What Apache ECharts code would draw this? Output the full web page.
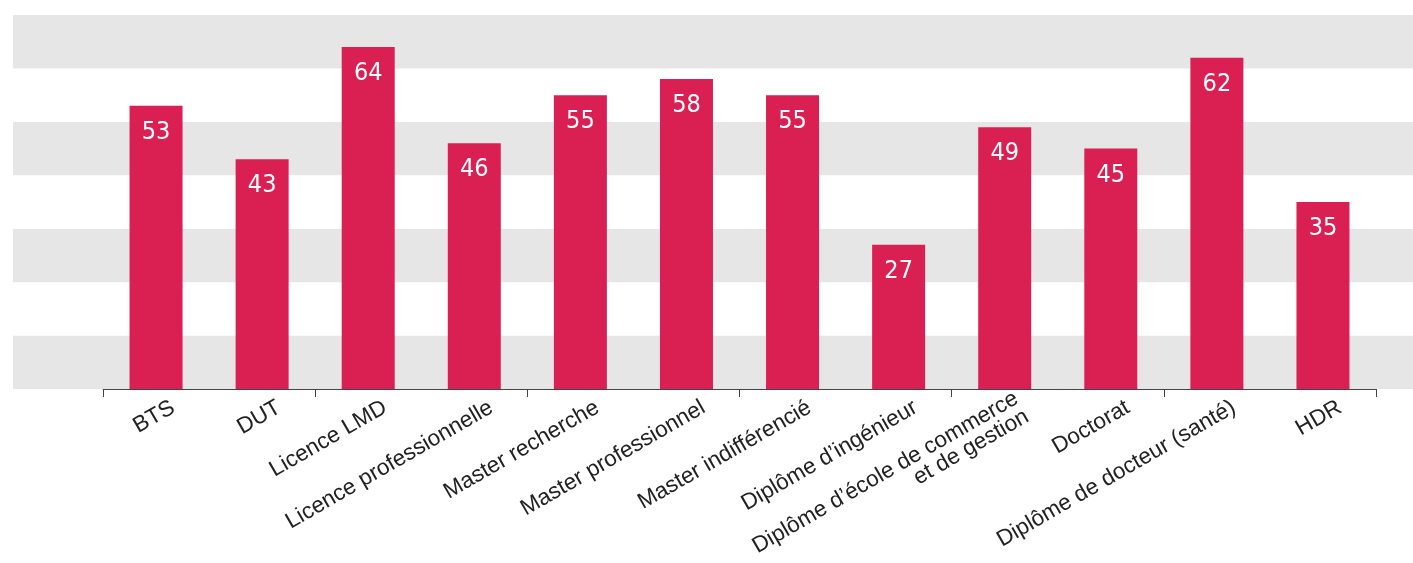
<!DOCTYPE html>
<html>
<head>
<meta charset="utf-8">
<script src="https://cdn.jsdelivr.net/npm/echarts@6/dist/echarts.min.js"></script>
<style>
html,body{margin:0;padding:0;background:#fff;}
#chart{width:1413px;height:563px;}
</style>
</head>
<body>
<div id="chart"></div>
<script>
const categories = [
  "BTS", "DUT", "Licence LMD", "Licence professionnelle", "Master recherche",
  "Master professionnel", "Master indifférencié", "Diplôme d\u2019ingénieur",
  "Diplôme d\u2019école de commerce\net de gestion", "Doctorat",
  "Diplôme de docteur (santé)", "HDR"
];
const values = [53, 43, 64, 46, 55, 58, 55, 27, 49, 45, 62, 35];
const yMin = 0, yMax = 70, yInterval = 10;

const chart = echarts.init(document.getElementById('chart'), null, {renderer: 'canvas'});
const labelFont = "'Liberation Sans Narrow', 'DejaVu Sans Condensed', 'Liberation Sans', sans-serif";
chart.setOption({
  animation: false,
  backgroundColor: '#ffffff',
  grid: [
    {left: 13, right: 0, top: 15, bottom: 174, containLabel: false, outerBoundsMode: 'none'},
    {left: 103, right: 37, top: 15, bottom: 174, containLabel: false, outerBoundsMode: 'none'},
    {left: 120, right: 20, top: 15, bottom: 174, containLabel: false, outerBoundsMode: 'none'}
  ],
  xAxis: [
    {gridIndex: 0, type: 'value', min: 0, max: 1, show: false},
    {
      gridIndex: 1, type: 'category', data: categories, boundaryGap: true,
      axisLine: {show: true, lineStyle: {color: '#444', width: 1}},
      axisTick: {show: true, length: 8, alignWithLabel: false, lineStyle: {color: '#444'}},
      axisLabel: {show: false}
    },
    {
      gridIndex: 2, type: 'category', data: categories, boundaryGap: true,
      axisLine: {show: false}, axisTick: {show: false},
      axisLabel: {
        show: true, interval: 0, rotate: 30, margin: 17,
        color: '#222', fontSize: 22.5, fontFamily: "'Liberation Sans', Arial, sans-serif",
        lineHeight: 21, align: 'right'
      }
    }
  ],
  yAxis: [
    {
      gridIndex: 0, type: 'value', min: yMin, max: yMax, interval: yInterval,
      axisLine: {show: false}, axisTick: {show: false}, axisLabel: {show: false},
      splitLine: {show: false},
      splitArea: {show: true, areaStyle: {color: ['#e6e6e6', '#ffffff']}}
    },
    {
      gridIndex: 1, type: 'value', min: yMin, max: yMax, interval: yInterval,
      show: false, splitLine: {show: false}
    },
    {
      gridIndex: 2, type: 'value', min: yMin, max: yMax, interval: yInterval,
      show: false, splitLine: {show: false}
    }
  ],
  series: [{
    type: 'bar',
    xAxisIndex: 1, yAxisIndex: 1,
    data: values,
    barWidth: 53,
    itemStyle: {color: '#da1f53'},
    label: {
      show: true, position: 'insideTop', distance: 14,
      color: '#ffffff', fontSize: 25, fontFamily: labelFont
    }
  }]
});
</script>
</body>
</html>
